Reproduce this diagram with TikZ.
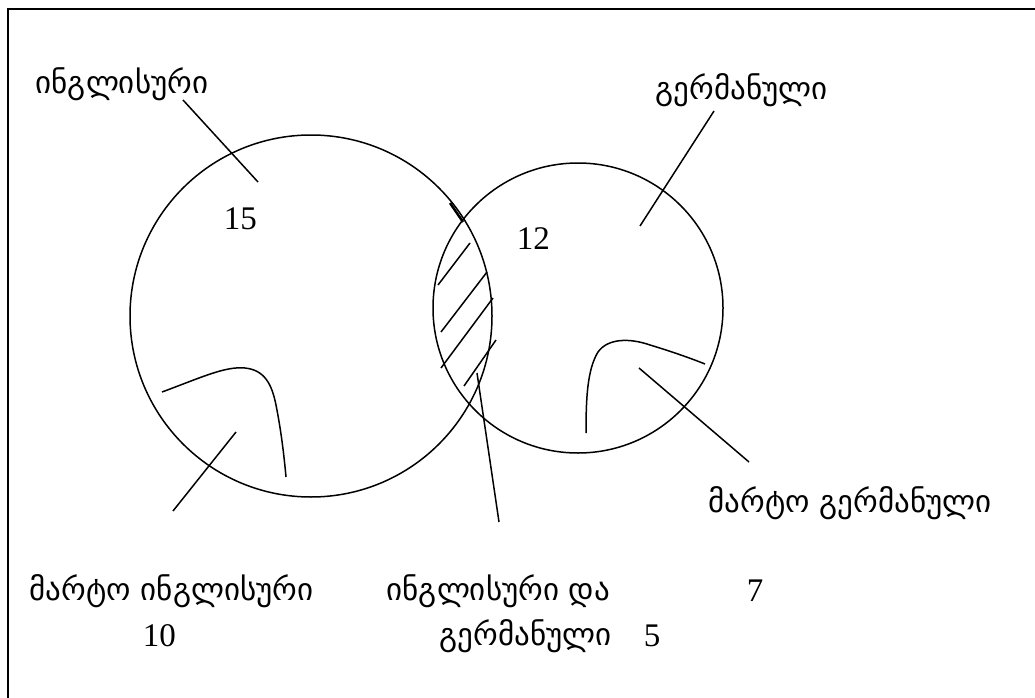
\documentclass[tikz,border=0pt]{standalone}
\usepackage{fontspec}
\setmainfont{Liberation Serif}
\newfontfamily\geo{DejaVu Sans}
\begin{document}
\begin{tikzpicture}[x=1pt,y=-1pt,line width=1.5pt,
  lbl/.style={font=\geo\fontsize{31}{36}\selectfont,anchor=base west,inner sep=0pt},
  num/.style={font=\fontsize{33}{38}\selectfont,anchor=base west,inner sep=0pt},
  set/.style={draw,circle,inner sep=0pt,line width=1.5pt}]
\useasboundingbox (0,0) rectangle (1035,698);
% frame
\draw[line width=2pt] (8,698) -- (8,9) -- (1035,9);
% sets
\node[set,minimum size=362pt] (eng) at (311,316) {};
\node[set,minimum size=290pt] (ger) at (578,308) {};
% labels
\node[lbl] (engL) at (35,94) {ინგლისური};
\node[lbl] (gerL) at (655,100) {გერმანული};
\node[lbl] (onlyGerL) at (708,512) {მარტო გერმანული};
\node[lbl] (onlyEngL) at (29,600) {მარტო ინგლისური};
\node[lbl] (bothL) at (386,600) {ინგლისური და};
\node[lbl] (bothL2) at (439,645) {გერმანული};
\node[num] (n15) at (223,229) {15};
\node[num] (n12) at (516,249) {12};
\node[num] (n7) at (746,601) {7};
\node[num] (n10) at (142,646) {10};
\node[num] (n5) at (643,646) {5};
% pointer ends
\coordinate (a1) at (183,100); \coordinate (a2) at (258,182);
\coordinate (b1) at (714,111); \coordinate (b2) at (640,226);
\coordinate (c1) at (236,432); \coordinate (c2) at (173,511);
\coordinate (d1) at (639,368); \coordinate (d2) at (749,462);
\coordinate (e1) at (477,373); \coordinate (e2) at (499,522);
\draw (a1) -- (a2);
\draw (b1) -- (b2);
\draw (c1) -- (c2);
\draw (d1) -- (d2);
\draw (e1) -- (e2);
% region outlines (only-sets)
\draw (162,392) .. controls (200,378) and (225,366) .. (245,368)
  .. controls (265,370) and (272,385) .. (276,405)
  .. controls (281,430) and (284,455) .. (286,477);
\draw (586,433) .. controls (586,400) and (587,370) .. (598,352)
  .. controls (608,338) and (630,338) .. (650,345)
  .. controls (670,351) and (690,358) .. (705,364);
% hatching of the intersection
\draw[line width=2.5pt] (450,203) -- (463,222);
\draw (470,243) -- (438,285);
\draw (487,272) -- (441,332);
\draw (493,298) -- (441,368);
\draw (496,340) -- (464,386);
\end{tikzpicture}
\end{document}
